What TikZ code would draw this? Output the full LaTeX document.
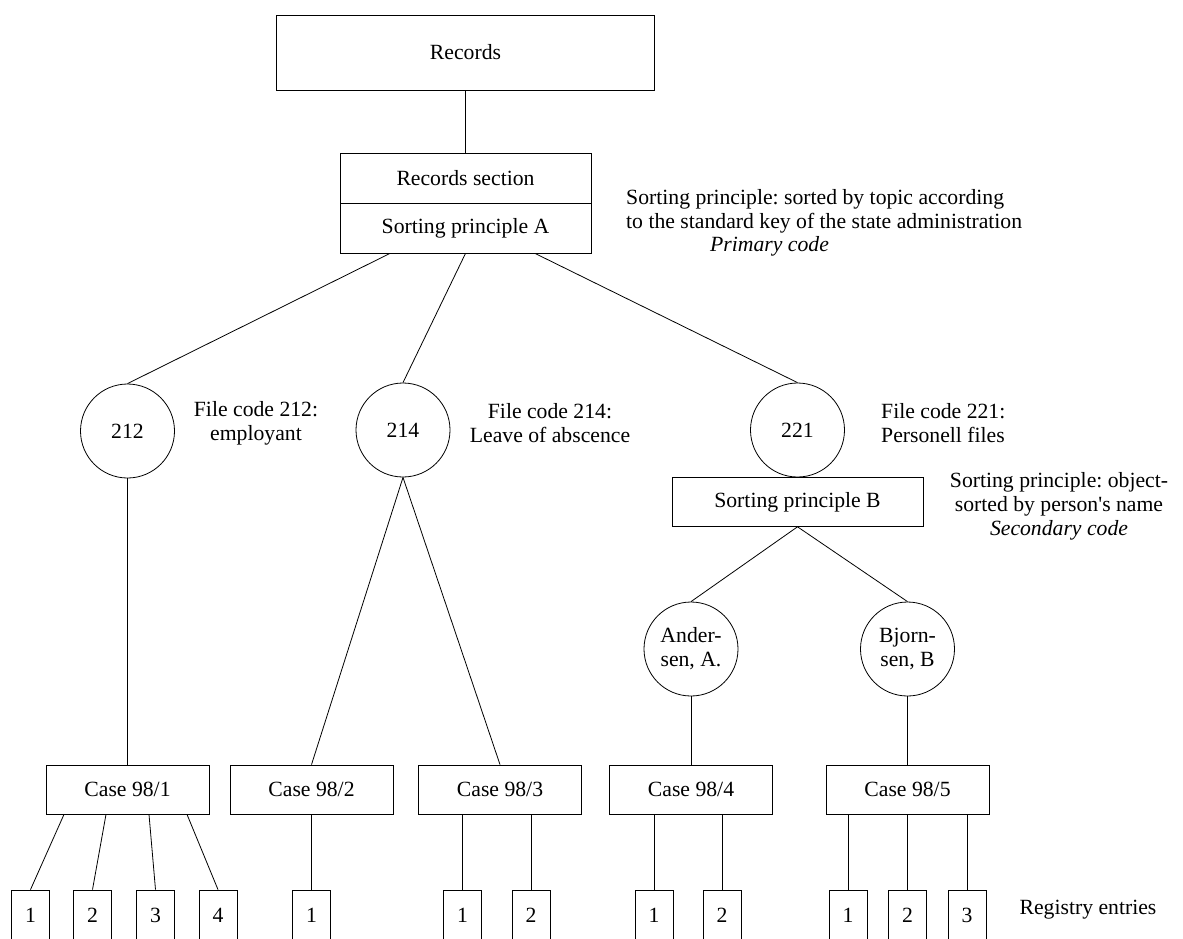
\documentclass[tikz,border=0pt]{standalone}
\usepackage{fontspec}
\setmainfont{Liberation Serif}
\newcommand{\dfont}{\fontsize{21.7}{24}\selectfont\frenchspacing}
\begin{document}
\begin{tikzpicture}[x=1pt,y=-1pt,
  every node/.style={font=\dfont},
  bx/.style={draw,line width=0.8pt,inner sep=0pt,minimum width=#1},
  casebox/.style={bx=163pt,minimum height=49pt},
  entry/.style={bx=38pt,minimum height=50pt},
  circ/.style={draw,line width=0.8pt,circle,minimum size=94pt,inner sep=0pt,align=center},
  lbl/.style={inner sep=0pt,align=center},
  ln/.style={line width=0.8pt}]
\clip (0,0) rectangle (1183,938);
\fill[white] (0,0) rectangle (1183,938);
% top
\node[bx=378pt,minimum height=75pt] (rec) at (465.5,52.5) {Records};
\node[bx=251pt,minimum height=50pt] (rs) at (465.5,178) {Records section};
\node[bx=251pt,minimum height=50pt] (spA) at (465.5,228) {Sorting principle A};
\draw[ln] (rec.south) -- (rs.north);
% annotation A
\node[lbl,align=left,anchor=west] (annA) at (626,211.5) {Sorting principle: sorted by topic according\\to the standard key of the state administration};
\node[lbl,anchor=west] (primA) at (710,246) {\itshape Primary code};
% file codes
\node[circ] (c212) at (127.5,431) {212};
\node[circ] (c214) at (403,430) {214};
\node[circ] (c221) at (797.5,430) {221};
\node[lbl] (l212) at (256,423.5) {File code 212:\\employant};
\node[lbl] (l214) at (550,423.5) {File code 214:\\Leave of abscence};
\node[lbl,align=left,anchor=west] (l221) at (881,423.5) {File code 221:\\Personell files};
\draw[ln] ([xshift=-75.5pt]spA.south) -- (c212.north);
\draw[ln] (spA.south) -- (c214.north);
\draw[ln] ([xshift=69.5pt]spA.south) -- (c221.north);
% sorting principle B
\node[bx=251pt,minimum height=49pt,anchor=north] (spB) at (797.5,477) {Sorting principle B};
\node[lbl] (annB) at (1059,506) {Sorting principle: object-\\sorted by person\textquotesingle s name\\\itshape Secondary code};
\node[circ] (and) at (691,649) {Ander-\\sen, A.};
\node[circ] (bjo) at (907.5,649) {Bjorn-\\sen, B};
\draw[ln] (spB.south) -- (and.north);
\draw[ln] (spB.south) -- (bjo.north);
% cases
\node[casebox] (k1) at (127.5,789.5) {Case 98/1};
\node[casebox] (k2) at (311.5,789.5) {Case 98/2};
\node[casebox] (k3) at (500,789.5) {Case 98/3};
\node[casebox] (k4) at (691,789.5) {Case 98/4};
\node[casebox] (k5) at (907.5,789.5) {Case 98/5};
\draw[ln] (c212.south) -- (k1.north);
\draw[ln] (c214.south) -- (k2.north);
\draw[ln] (c214.south) -- (k3.north);
\draw[ln] (and.south) -- (k4.north);
\draw[ln] (bjo.south) -- (k5.north);
% registry entries
\node[entry] (e11) at (30.5,915) {1};
\node[entry] (e12) at (92.5,915) {2};
\node[entry] (e13) at (155.5,915) {3};
\node[entry] (e14) at (218,915) {4};
\node[entry] (e21) at (311.5,915) {1};
\node[entry] (e31) at (462.5,915) {1};
\node[entry] (e32) at (531,915) {2};
\node[entry] (e41) at (654,915) {1};
\node[entry] (e42) at (722,915) {2};
\node[entry] (e51) at (848,915) {1};
\node[entry] (e52) at (907.5,915) {2};
\node[entry] (e53) at (967,915) {3};
\node[lbl] (reg) at (1088,910) {Registry entries};
\draw[ln] ([xshift=-63.5pt]k1.south) -- (e11.north);
\draw[ln] ([xshift=-21.5pt]k1.south) -- (e12.north);
\draw[ln] ([xshift=21.5pt]k1.south) -- (e13.north);
\draw[ln] ([xshift=59.5pt]k1.south) -- (e14.north);
\draw[ln] (k2.south) -- (e21.north);
\draw[ln] (e31.north |- k3.south) -- (e31.north);
\draw[ln] (e32.north |- k3.south) -- (e32.north);
\draw[ln] (e41.north |- k4.south) -- (e41.north);
\draw[ln] (e42.north |- k4.south) -- (e42.north);
\draw[ln] (e51.north |- k5.south) -- (e51.north);
\draw[ln] (e52.north |- k5.south) -- (e52.north);
\draw[ln] (e53.north |- k5.south) -- (e53.north);
\end{tikzpicture}
\end{document}
